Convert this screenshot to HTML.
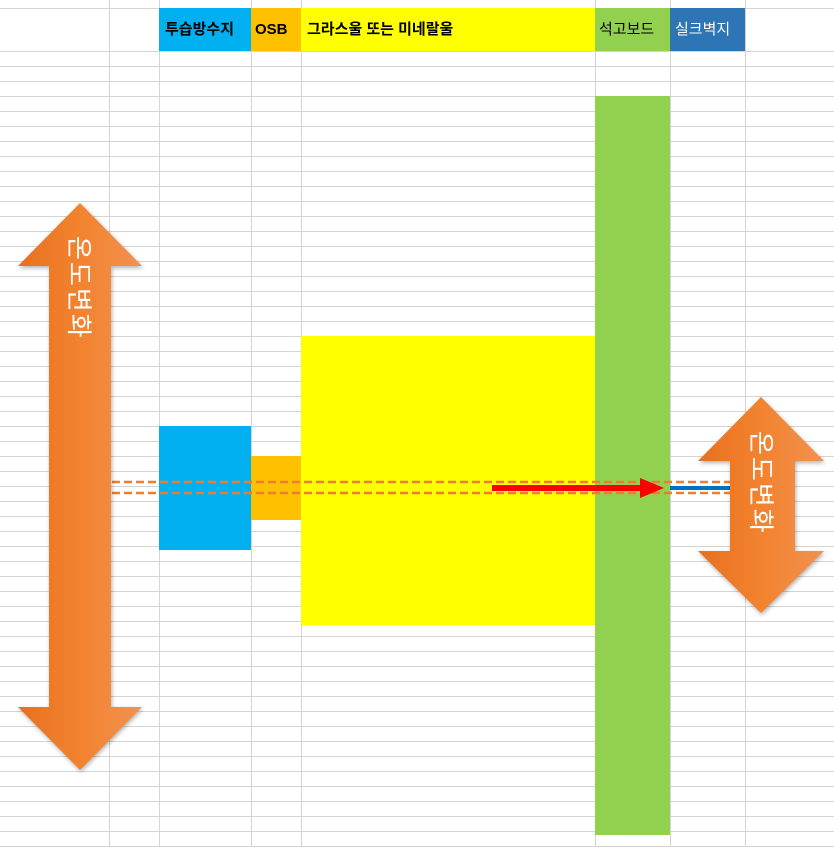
<!DOCTYPE html>
<html><head><meta charset="utf-8"><style>
body{margin:0;width:834px;height:847px;overflow:hidden;background:#fff;font-family:"Liberation Sans","Noto Sans CJK KR",sans-serif}
.t{position:absolute;writing-mode:vertical-rl;text-orientation:sideways;color:#fff;font-size:26px;letter-spacing:2px;font-family:"Noto Sans CJK KR",sans-serif}
.h{position:absolute;top:8px;height:43px;line-height:43px;font-size:15px;font-weight:bold;padding-left:6px;box-sizing:border-box;font-family:"Liberation Sans","Noto Sans CJK KR",sans-serif}
</style></head><body>
<svg width="834" height="847" style="position:absolute;left:0;top:0">
<defs>
<linearGradient id="g" x1="0" x2="1" y1="0" y2="0"><stop offset="0" stop-color="#E8701E"/><stop offset="0.5" stop-color="#F2832F"/><stop offset="1" stop-color="#F29150"/></linearGradient>
<pattern id="rows" x="0" y="51" width="834" height="15" patternUnits="userSpaceOnUse"><line x1="0" y1="0.5" x2="834" y2="0.5" stroke="#d4d4d4" stroke-width="1"/></pattern>
</defs>
<rect x="0" y="51" width="834" height="796" fill="url(#rows)"/>
<line x1="0" y1="8.5" x2="834" y2="8.5" stroke="#d4d4d4"/>
<g stroke="#d4d4d4">
<line x1="109.5" y1="0" x2="109.5" y2="847"/><line x1="159.5" y1="0" x2="159.5" y2="847"/><line x1="251.5" y1="0" x2="251.5" y2="847"/><line x1="301.5" y1="0" x2="301.5" y2="847"/><line x1="595.5" y1="0" x2="595.5" y2="847"/><line x1="670.5" y1="0" x2="670.5" y2="847"/><line x1="745.5" y1="0" x2="745.5" y2="847"/>
</g>
<rect x="159" y="426" width="92" height="124" fill="#00B0F0"/>
<rect x="251" y="456" width="50" height="64" fill="#FFC000"/>
<rect x="301" y="336" width="294" height="289" fill="#FFFF00"/>
<rect x="595" y="96" width="75" height="739" fill="#92D050"/>
<line x1="112" y1="482" x2="730" y2="482" stroke="#ED7D31" stroke-width="2.5" stroke-dasharray="8,4"/>
<line x1="112" y1="493" x2="730" y2="493" stroke="#ED7D31" stroke-width="2.5" stroke-dasharray="8,4"/>
<rect x="492" y="485" width="150" height="6" fill="#FF0000"/>
<polygon points="640,478 664,488 640,498" fill="#FF0000"/>
<rect x="670" y="486" width="60" height="4" fill="#0070C0"/>
<polygon points="80,203 142,266 111,266 111,707 142,707 80,770 18,707 49,707 49,266 18,266" fill="url(#g)" style="filter:drop-shadow(1px 2px 2px rgba(0,0,0,0.3))"/>
<polygon points="761,397 824,461 795,461 795,551 824,551 761,613 698,551 730,551 730,461 698,461" fill="url(#g)" style="filter:drop-shadow(1px 2px 2px rgba(0,0,0,0.3))"/>
</svg>
<div class="h" style="left:159px;width:92px;background:#00B0F0">투습방수지</div>
<div class="h" style="left:251px;width:50px;background:#FFC000;padding-left:4px">OSB</div>
<div class="h" style="left:301px;width:294px;background:#FFFF00">그라스울 또는 미네랄울</div>
<div class="h" style="left:595px;width:75px;background:#92D050;font-weight:normal;padding-left:4px">석고보드</div>
<div class="h" style="left:670px;width:75px;background:#2E75B6;color:#fff;font-weight:normal;padding-left:5px">실크벽지</div>
<div class="t" style="left:62px;top:236px">온도변화</div>
<div class="t" style="left:744px;top:431px">온도변화</div>
</body></html>
